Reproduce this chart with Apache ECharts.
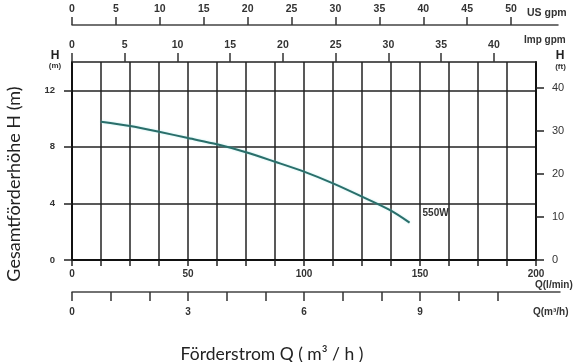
<!DOCTYPE html>
<html><head><meta charset="utf-8">
<script src="https://cdn.jsdelivr.net/npm/echarts@6/dist/echarts.min.js"></script>
<style>html,body{margin:0;padding:0;background:#fff}#c{width:582px;height:362px}</style>
</head><body><div id="c"></div>
<script>
// ---- data ----
const flowLpm = [12.5, 25, 37.5, 50, 62.5, 75, 87.5, 100, 112.5, 125, 137.5, 145.5];
const headM   = [9.78, 9.48, 9.07, 8.62, 8.18, 7.62, 6.95, 6.25, 5.42, 4.48, 3.49, 2.64];
const curveName = '550W';

const lpmLabels    = [0, 50, 100, 150, 200];
const lpmStep      = 12.5;
const headMLabels  = [0, 4, 8, 12];
const headMStep    = 2;
const headFtLabels = [0, 10, 20, 30, 40];
const usGpmTicks   = [0, 5, 10, 15, 20, 25, 30, 35, 40, 45, 50];
const impGpmTicks  = [0, 5, 10, 15, 20, 25, 30, 35, 40];
const m3hTicks     = [0, 1, 2, 3, 4, 5, 6, 7, 8, 9, 10, 11];
const m3hLabels    = [0, 3, 6, 9];

// unit conversions
const L_PER_USGAL = 3.78541, L_PER_IMPGAL = 4.54609, M_PER_FT = 0.3048, LPM_PER_M3H = 1000 / 60;
const qMax = 200, hMax = 14;

// ---- layout ----
const G = { left: 72, top: 62, right: 536, bottom: 260 };
const W = G.right - G.left;
const usW = 486, m3W = 488;

const FONT = '"Liberation Sans", Arial, sans-serif';
const TFONT = 'Lato, "Open Sans", sans-serif';
const lbl = (extra) => Object.assign({ fontFamily: FONT, fontSize: 10, fontWeight: 'bold', color: '#333' }, extra);
const axLine = (w, c) => ({ show: true, onZero: false, lineStyle: { color: c || '#111', width: w || 2 } });

const chart = echarts.init(document.getElementById('c'), null, { renderer: 'canvas' });
chart.setOption({
  animation: false,
  backgroundColor: '#fff',
  grid: [
    { left: G.left, top: G.top, width: W, height: G.bottom - G.top, containLabel: false },
    { left: G.left, top: 25, width: usW, height: 1, containLabel: false },
    { left: G.left, top: 291, width: m3W, height: 1, containLabel: false }
  ],
  xAxis: [
    { // l/min (main)
      gridIndex: 0, type: 'value', position: 'bottom', min: 0, max: qMax, interval: lpmStep,
      axisLine: axLine(2, '#111'),
      axisTick: { show: true, length: 6, lineStyle: { color: '#222', width: 1.5 } },
      axisLabel: lbl({ customValues: lpmLabels, margin: 9 }),
      splitLine: { show: true, lineStyle: { color: '#222', width: 1.5 } }
    },
    { // Imp gpm (top of grid)
      gridIndex: 0, type: 'value', position: 'top', min: 0, max: qMax / L_PER_IMPGAL,
      axisLine: axLine(1.5, '#222'),
      axisTick: { show: true, customValues: impGpmTicks, length: 9, lineStyle: { color: '#333', width: 1.5 } },
      axisLabel: lbl({ customValues: impGpmTicks, margin: 11, fontSize: 10.5 }),
      splitLine: { show: false }
    },
    { // US gpm
      gridIndex: 1, type: 'value', position: 'top', min: 0, max: (usW / W) * qMax / L_PER_USGAL,
      axisLine: axLine(1.5, '#444'),
      axisTick: { show: true, customValues: usGpmTicks, length: 8, lineStyle: { color: '#333', width: 1.5 } },
      axisLabel: lbl({ customValues: usGpmTicks, margin: 10, fontSize: 10.5 }),
      splitLine: { show: false }
    },
    { // m3/h
      gridIndex: 2, type: 'value', position: 'bottom', min: 0, max: (m3W / W) * qMax / LPM_PER_M3H,
      axisLine: axLine(1.5, '#444'),
      axisTick: { show: true, customValues: m3hTicks, length: 9, lineStyle: { color: '#333', width: 1.5 } },
      axisLabel: lbl({ customValues: m3hLabels, margin: 15 }),
      splitLine: { show: false }
    }
  ],
  yAxis: [
    { // H (m)
      gridIndex: 0, type: 'value', position: 'left', min: 0, max: hMax, interval: headMStep,
      axisLine: axLine(2, '#111'),
      axisTick: { show: true, customValues: headMLabels, length: 8, lineStyle: { color: '#222', width: 1.5 } },
      axisLabel: lbl({ customValues: headMLabels, margin: 17, fontSize: 9.5 }),
      splitLine: { show: true, lineStyle: { color: '#222', width: 1.5 } }
    },
    { // H (ft)
      gridIndex: 0, type: 'value', position: 'right', min: 0, max: hMax / M_PER_FT,
      axisLine: axLine(2, '#111'),
      axisTick: { show: true, customValues: headFtLabels, length: 8, lineStyle: { color: '#222', width: 1.5 } },
      axisLabel: lbl({ customValues: headFtLabels, margin: 16, fontSize: 11, fontWeight: 'normal' }),
      splitLine: { show: false }
    },
    { gridIndex: 1, type: 'value', show: false, min: 0, max: 1 },
    { gridIndex: 2, type: 'value', show: false, min: 0, max: 1 }
  ],
  series: [{
    type: 'line', xAxisIndex: 0, yAxisIndex: 0,
    data: flowLpm.map((q, i) => [q, headM[i]]),
    smooth: 0.3, symbol: 'none',
    lineStyle: { color: '#2a6e6a', width: 2, shadowColor: 'rgba(120,220,220,0.55)', shadowBlur: 2 },
    endLabel: { show: true, formatter: curveName, offset: [5, -9], fontFamily: FONT, fontSize: 10, fontWeight: 'bold', color: '#333' }
  }],
  graphic: [
    { type: 'text', x: 527, y: 13, style: { text: 'US gpm', font: 'bold 10.5px ' + FONT, fill: '#333', verticalAlign: 'middle' } },
    { type: 'text', x: 524, y: 40, style: { text: 'Imp gpm', font: 'bold 10px ' + FONT, fill: '#333', verticalAlign: 'middle' } },
    { type: 'text', x: 55, y: 56, style: { text: 'H', font: 'bold 12px ' + FONT, fill: '#222', align: 'center', verticalAlign: 'middle' } },
    { type: 'text', x: 55, y: 66, style: { text: '(m)', font: 'bold 8px ' + FONT, fill: '#333', align: 'center', verticalAlign: 'middle' } },
    { type: 'text', x: 560, y: 56, style: { text: 'H', font: 'bold 12px ' + FONT, fill: '#222', align: 'center', verticalAlign: 'middle' } },
    { type: 'text', x: 560.5, y: 67, style: { text: '(ft)', font: 'bold 8px ' + FONT, fill: '#333', align: 'center', verticalAlign: 'middle' } },
    { type: 'text', x: 535, y: 285, style: { text: 'Q(l/min)', font: 'bold 10px ' + FONT, fill: '#333', verticalAlign: 'middle' } },
    { type: 'text', x: 533, y: 312, style: { text: 'Q(m³/h)', font: 'bold 10px ' + FONT, fill: '#333', verticalAlign: 'middle' } },
    { type: 'text', x: 272, y: 354, style: { text: 'Förderstrom Q ( m³ / h )', font: '17.5px ' + TFONT, fill: '#222', align: 'center', verticalAlign: 'middle' } },
    { type: 'text', x: 14, y: 184, rotation: Math.PI / 2, style: { text: 'Gesamtförderhöhe H (m)', font: '18px ' + TFONT, fill: '#222', align: 'center', verticalAlign: 'middle' } }
  ]
});
</script>
</body></html>
